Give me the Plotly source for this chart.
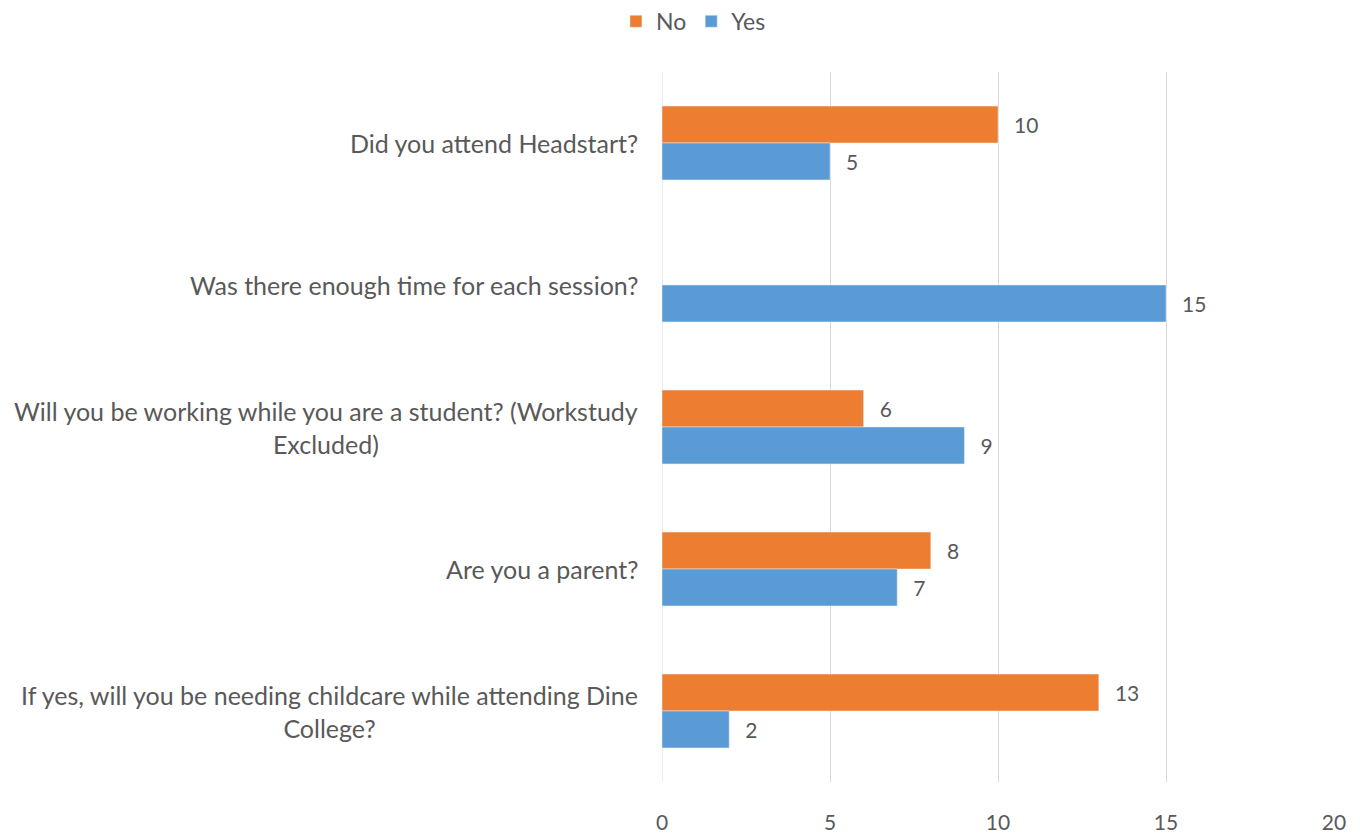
import plotly.graph_objects as go

categories = [
    "Did you attend Headstart?",
    "Was there enough time for each session?",
    "Will you be working while you are a student? (Workstudy<br>Excluded)",
    "Are you a parent?",
    "If yes, will you be needing childcare while attending Dine<br>College?",
]
no_values = [10, None, 6, 8, 13]
yes_values = [5, 15, 9, 7, 2]
x_ticks = [0, 5, 10, 15, 20]

FONT = "Lato, Open Sans, sans-serif"
TXT = "#595959"
FS_CAT = 25
FS_NUM = 21
FS_LEG = 23

fig = go.Figure()
fig.add_trace(go.Bar(
    name="No", y=list(range(len(categories))), x=no_values, orientation="h",
    marker_color="#ED7D31", texttemplate="\u2002\u2009%{x}", textposition="outside",
    textfont=dict(color=TXT, size=FS_NUM, family=FONT), cliponaxis=False,
))
fig.add_trace(go.Bar(
    name="Yes", y=list(range(len(categories))), x=yes_values, orientation="h",
    marker_color="#5B9BD5", texttemplate="\u2002\u2009%{x}", textposition="outside",
    textfont=dict(color=TXT, size=FS_NUM, family=FONT), cliponaxis=False,
))

for i, c in enumerate(categories):
    fig.add_annotation(
        x=-0.0327, xref="paper", y=i, yref="y", text=c, showarrow=False,
        xanchor="right", align="center", font=dict(size=FS_CAT, color=TXT, family=FONT),
    )

fig.update_layout(
    width=1360, height=833,
    margin=dict(l=654, r=34, t=64, b=59),
    paper_bgcolor="white", plot_bgcolor="white",
    barmode="group", bargap=0.48, bargroupgap=0,
    font=dict(family=FONT, color=TXT, size=FS_NUM),
    showlegend=True,
    legend=dict(orientation="h", xref="container", yref="container",
                x=0.504, xanchor="center", y=0.984, yanchor="middle",
                font=dict(size=FS_LEG, color=TXT, family=FONT)),
    xaxis=dict(range=[0, 20], tickvals=x_ticks, showgrid=True, gridcolor="#D9D9D9",
               gridwidth=1, zeroline=False, showline=False, ticks="", automargin=False,
               ticklabelstandoff=26, tickfont=dict(size=FS_NUM, color=TXT, family=FONT)),
    yaxis=dict(range=[4.5, -0.5], showticklabels=False, showgrid=False, automargin=False,
               zeroline=False, showline=False, ticks=""),
)
fig.add_shape(type="line", xref="x", yref="paper", x0=0, x1=0, y0=0, y1=1,
              line=dict(color="#D9D9D9", width=1), layer="below")

fig.write_html("out.html")
